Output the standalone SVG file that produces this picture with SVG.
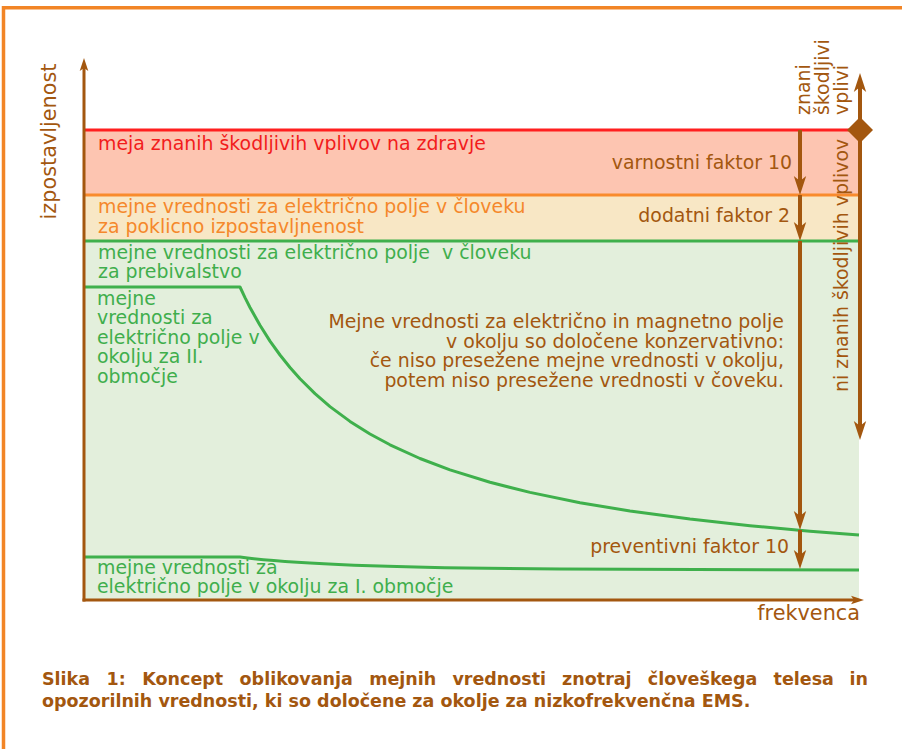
<svg xmlns="http://www.w3.org/2000/svg" width="902" height="749" viewBox="0 0 902 749">
<style>
text{font-family:"DejaVu Sans","Verdana",sans-serif;font-size:18.9px}
.br{fill:#a3570f}
.ax{font-size:20.8px}
.rd{fill:#f21c1c}
.or{fill:#f5882b}
.gr{fill:#3fae4c}
.cap{font-weight:bold;font-size:17.5px;fill:#a3570f}
.bl{stroke:#a3570f;fill:none}
.gl{stroke:#3fb04c;stroke-width:3;fill:none;stroke-linejoin:round}
</style>
<defs>
<marker id="ah" markerUnits="userSpaceOnUse" viewBox="-8 -7 21 14" refX="0" refY="0" markerWidth="21" markerHeight="14" orient="auto" overflow="visible">
<path d="M12,0 L-7,-6.2 L-2,0 L-7,6.2 Z" fill="#a3570f"/>
</marker>
<marker id="ahs" markerUnits="userSpaceOnUse" viewBox="-5 -5 15 10" refX="0" refY="0" markerWidth="15" markerHeight="10" orient="auto" overflow="visible">
<path d="M9,0 L-4,-4.3 L-1,0 L-4,4.3 Z" fill="#a3570f"/>
</marker>
</defs>
<rect width="902" height="749" fill="#ffffff"/>
<path d="M3.5,749 V7.7 H902" stroke="#f28526" stroke-width="3.5" fill="none"/>

<g id="regions">
<rect x="84" y="130" width="775" height="65" fill="#fdc5b1"/>
<rect x="84" y="195" width="775" height="46" fill="#f8e7c5"/>
<rect x="84" y="241" width="775" height="359" fill="#e3efdc"/>
<line x1="84" y1="130" x2="860" y2="130" stroke="#ff1f1f" stroke-width="3"/>
<line x1="84" y1="195" x2="859" y2="195" stroke="#f98b2d" stroke-width="3"/>
<line x1="84" y1="241" x2="859" y2="241" class="gl"/>
<path id="curve2" d="M84,287 L240,287 L245,297.6 L250,307.5 L260,325.3 L270,341.1 L280,355 L290,367.5 L300,378.8 L315,393.6 L330,406.6 L350,421.4 L370,434 L390,444.8 L420,458.5 L450,469.9 L490,482.3 L530,492.4 L580,502.7 L630,511 L690,519.1 L750,525.7 L810,531.2 L859,535" class="gl"/>
<path id="curve1" d="M84,557 L240,557 C290,564 400,568 560,569 L859,570" class="gl"/>
</g>

<g id="axes">
<line x1="84" y1="601.5" x2="84" y2="67" class="bl" stroke-width="3" marker-end="url(#ahs)"/>
<line x1="82.5" y1="600" x2="855" y2="600" class="bl" stroke-width="3" marker-end="url(#ahs)"/>
<g id="axis-y-label"><text class="br ax" transform="translate(56,141.5) rotate(-90)" text-anchor="middle">izpostavljenost</text></g>
<g id="axis-x-label"><text class="br ax" x="860" y="620" text-anchor="end">frekvenca</text></g>
</g>

<g id="connectors">
<line x1="860" y1="130" x2="860" y2="85" class="bl" stroke-width="4" marker-end="url(#ah)"/>
<line x1="860" y1="130" x2="860" y2="428" class="bl" stroke-width="4" marker-end="url(#ah)"/>
<line x1="800" y1="130" x2="800" y2="183" class="bl" stroke-width="4" marker-end="url(#ah)"/>
<line x1="800" y1="195" x2="800" y2="229" class="bl" stroke-width="4" marker-end="url(#ah)"/>
<line x1="800" y1="241" x2="800" y2="518" class="bl" stroke-width="4" marker-end="url(#ah)"/>
<line x1="800" y1="530" x2="800" y2="557" class="bl" stroke-width="4" marker-end="url(#ah)"/>
</g>

<g id="diamond"><polygon points="860,117 873,130 860,143 847,130" fill="#a3570f"/></g>

<g id="label-known"><text class="br" transform="translate(810,115) rotate(-90)"><tspan x="0" y="0">znani</tspan><tspan x="0" y="19">škodljivi</tspan><tspan x="0" y="38">vplivi</tspan></text></g>
<g id="label-unknown"><text class="br" transform="translate(848,392) rotate(-90)">ni znanih škodljivih vplivov</text></g>

<g id="label-red"><text class="rd" x="98" y="149.5">meja znanih škodljivih vplivov na zdravje</text></g>
<g id="label-orange"><text class="or"><tspan x="98" y="213">mejne vrednosti za električno polje v človeku</tspan><tspan x="98" y="232.5">za poklicno izpostavljnenost</tspan></text></g>
<g id="label-green"><text class="gr" xml:space="preserve"><tspan x="98" y="259">mejne vrednosti za električno polje  v človeku</tspan><tspan x="98" y="278">za prebivalstvo</tspan></text></g>
<g id="label-zone2"><text class="gr"><tspan x="97" y="305">mejne</tspan><tspan x="97" y="324">vrednosti za</tspan><tspan x="97" y="343.5">električno polje v</tspan><tspan x="97" y="363">okolju za II.</tspan><tspan x="97" y="382.5">območje</tspan></text></g>
<g id="label-zone1"><text class="gr"><tspan x="97" y="574">mejne vrednosti za</tspan><tspan x="97" y="593">električno polje v okolju za I. območje</tspan></text></g>

<g id="label-note"><text class="br" text-anchor="end"><tspan x="784" y="328">Mejne vrednosti za električno in magnetno polje</tspan><tspan x="784" y="348">v okolju so določene konzervativno:</tspan><tspan x="784" y="367">če niso presežene mejne vrednosti v okolju,</tspan><tspan x="784" y="387">potem niso presežene vrednosti v čoveku.</tspan></text></g>

<g id="label-f1"><text class="br" x="792" y="169" text-anchor="end">varnostni faktor 10</text></g>
<g id="label-f2"><text class="br" x="790" y="222" text-anchor="end">dodatni faktor 2</text></g>
<g id="label-f3"><text class="br" x="789" y="553" text-anchor="end">preventivni faktor 10</text></g>

<g id="caption">
<text class="cap" y="685"><tspan x="42">Slika</tspan><tspan x="106.5">1:</tspan><tspan x="142.3">Koncept</tspan><tspan x="239.6">oblikovanja</tspan><tspan x="369.2">mejnih</tspan><tspan x="452.4">vrednosti</tspan><tspan x="562.1">znotraj</tspan><tspan x="647.8">človeškega</tspan><tspan x="773.6">telesa</tspan><tspan x="868" text-anchor="end">in</tspan></text>
<text class="cap" x="42" y="707">opozorilnih vrednosti, ki so določene za okolje za nizkofrekvenčna EMS.</text>
</g>
</svg>
